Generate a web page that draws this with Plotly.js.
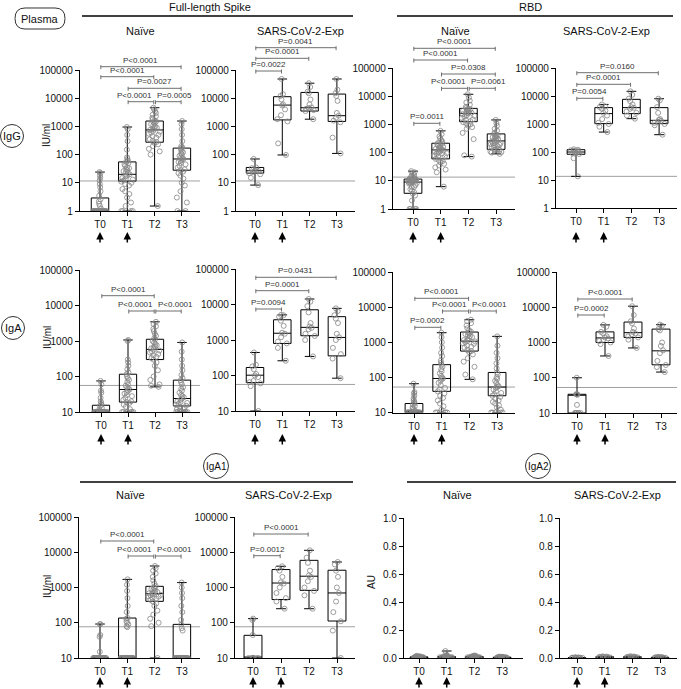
<!DOCTYPE html>
<html><head><meta charset="utf-8">
<script src="https://cdn.plot.ly/plotly-3.0.1.min.js"></script>
<style>body{margin:0;padding:0;background:#fff}#chart{width:681px;height:689px}</style>
</head><body><div id="chart"></div>
<script>
const timepoints = ['T0','T1','T2','T3'];

// Box statistics per timepoint: [q1, median, q3, min, max]
const IgG_Spike_Naive_box = [[1,1,2.9,1,24],[11.5,20,55,1,950],[275,750,1550,1.5,4600],[28,70,170,1,1550]];
const IgG_Spike_Exp_box   = [[22,27,35,8.3,70],[1700,5700,11300,97,48000],[3500,4600,16000,1800,34000],[1500,2400,14000,110,48000]];
const IgG_RBD_Naive_box   = [[3.6,9,11.5,1,22],[60,125,215,6.2,590],[1250,2450,3700,72,11700],[130,260,460,90,1440]];
const IgG_RBD_Exp_box     = [[83,100,121,13.5,125],[1030,2350,3850,515,5000],[2350,3850,7600,1550,14700],[1030,1350,3850,415,8000]];
const IgA_Spike_Naive_box = [[10,10,15.5,10,75],[19,43,116,10,1070],[300,580,1120,51,3470],[14.8,24,79,10,910]];
const IgA_Spike_Exp_box   = [[63,102,168,10,445],[800,1550,3720,260,5100],[1320,2270,7100,345,14300],[357,1180,4540,84,7800]];
const IgA_RBD_Naive_box   = [[10,10,18,10,66],[40,93,230,10,1870],[560,1070,1950,88,4380],[30,53,138,10,1470]];
const IgA_RBD_Exp_box     = [[10,33,34,10,100],[1000,1350,2000,415,3160],[1390,1900,3800,700,10700],[233,580,2400,145,3200]];
const IgA1_Naive_box      = [[10,10,10,10,92],[10,10,136,10,1700],[405,670,1080,10,4070],[10,10,90,10,1380]];
const IgA1_Exp_box        = [[10,10,44,10,131],[455,1340,3230,250,4000],[830,2090,5900,250,11350],[112,700,3090,10,5300]];
const IgA2_Naive_box      = [[0.001,0.004,0.008,0,0.015],[0.002,0.005,0.01,0,0.05],[0.002,0.005,0.01,0,0.018],[0.001,0.003,0.006,0,0.01]];
const IgA2_Exp_box        = [[0.001,0.002,0.003,0,0.005],[0.003,0.006,0.009,0,0.012],[0.003,0.006,0.009,0,0.013],[0.002,0.003,0.005,0,0.008]];

// Individual samples per timepoint
const IgG_Spike_Naive_pts = [
 [1,1,1,1,1,1,1,1,1,1,1,1,1,1,1,1,1,1,1,1,1,1,1,1,1,1,1.2,1.5,1.8,2.2,2.6,3.5,5,7,9,12,15,18,22,24],
 [1,1,1,1,1.5,2,3,4,5,6,8,9,10,11,12,13,14,15,17,18,20,22,24,26,28,30,33,36,40,45,50,55,60,70,80,150,300,500,800,950],
 [1.5,100,130,160,200,230,260,280,300,350,400,450,500,550,600,650,700,750,800,850,900,1000,1100,1200,1300,1400,1500,1600,1800,2000,2300,2600,3000,3500,4000,4600],
 [1,1,2,3,5,8,10,14,18,22,25,28,30,35,40,45,50,55,60,65,70,75,80,90,100,110,120,130,150,170,180,200,300,500,800,1200,1550]
];
const IgG_Spike_Exp_pts = [
 [8.3,15,20,22,24,26,27,28,30,33,35,70],
 [97,250,1500,1800,2500,4000,5500,6000,9000,12000,14000,48000],
 [1800,3500,3800,4200,4500,4700,6000,9000,15000,17000,25000,34000],
 [110,400,1400,1600,2000,2400,3000,8000,12000,15000,20000,48000]
];
const IgG_RBD_Naive_pts = [
 [1,1,1,1,2,3,3.5,4,4.5,5,6,7,8,8.5,9,9,9.5,10,10,10,10.5,11,11,11,11.5,12,12,13,14,15,16,18,20,22,9,10,10,11,8,6],
 [6.2,20,25,30,35,40,45,50,55,60,65,70,75,80,90,95,100,105,110,115,120,125,130,135,140,150,160,170,180,200,210,220,250,280,320,380,450,590],
 [72,80,300,500,700,800,900,1000,1100,1200,1300,1400,1500,1700,1900,2000,2100,2300,2400,2500,2600,2700,2800,3000,3200,3300,3400,3600,3800,4200,5000,6000,7000,9000,11700],
 [90,100,105,110,120,125,130,140,150,160,170,180,190,200,210,220,240,250,260,280,300,320,340,350,360,380,400,430,460,500,600,700,900,1100,1440]
];
const IgG_RBD_Exp_pts = [
 [13.5,60,85,90,95,100,100,105,110,115,120,125],
 [515,800,1000,1100,1500,2000,2500,3000,3500,4000,4200,5000],
 [1550,2000,2500,2800,3500,3800,4000,5000,6500,8000,11000,14700],
 [415,900,1000,1100,1200,1300,1400,1500,2500,4000,7000,8000]
];
const IgA_Spike_Naive_pts = [
 [10,10,10,10,10,10,10,10,10,10,10,10,10,10,10,10,10,10,10,10,10,10,10,10,10,10,10,10,11,12,13,15,16,18,20,25,35,40,60,75],
 [10,10,10,10,10,10,10,12,14,16,18,19,20,22,25,28,30,33,36,40,43,46,50,55,60,70,80,90,100,116,130,160,200,250,300,1000,1070],
 [51,55,60,80,100,150,200,250,300,330,360,400,430,470,500,540,580,620,660,700,760,820,900,1000,1100,1200,1400,1600,1900,2200,2600,3000,3470],
 [10,10,10,10,10,10,10,10,11,12,13,14,15,16,17,18,19,20,22,24,26,28,30,35,40,45,50,60,70,79,90,110,150,200,300,500,910]
];
const IgA_Spike_Exp_pts = [
 [10,50,60,65,70,90,100,110,150,180,200,445],
 [260,600,800,900,1200,1500,1600,2500,3500,4500,5000,5100],
 [345,1000,1300,1500,2000,2200,2400,3000,6000,9000,12000,14300],
 [84,300,400,600,1000,1200,1500,3000,4000,5000,6500,7800]
];
const IgA_RBD_Naive_pts = [
 [10,10,10,10,10,10,10,10,10,10,10,10,10,10,10,10,10,10,10,10,10,10,10,10,10,10,11,12,13,14,15,17,18,20,22,25,30,35,38,66],
 [10,10,10,10,10,10,12,15,18,22,26,30,35,40,45,50,60,70,80,90,93,100,110,130,150,170,200,230,260,300,400,500,700,1000,1400,1870],
 [88,120,200,280,350,450,520,560,600,700,750,800,900,950,1000,1050,1100,1150,1200,1300,1400,1500,1600,1700,1800,1900,2000,2200,2500,3000,3500,4000,4380],
 [10,10,10,10,10,12,14,16,18,20,22,25,28,30,33,36,40,45,50,53,56,60,70,80,90,100,120,138,180,250,350,500,800,1470]
];
const IgA_RBD_Exp_pts = [
 [10,10,10,10,10,10,17,33,34,34,34,100],
 [415,900,1000,1100,1200,1300,1400,1500,1800,2000,2800,3160],
 [700,1200,1400,1500,1700,1800,2000,2500,3500,4000,6000,10700],
 [145,200,230,300,500,600,800,1000,2200,2400,3000,3200]
];
const IgA1_Naive_pts = [
 [10,10,10,10,10,10,10,10,10,10,10,10,10,10,10,10,10,10,10,10,10,10,10,10,10,10,10,10,10,10,10,10,10,10,15,40,45,90,92],
 [10,10,10,10,10,10,10,10,10,10,10,10,10,10,10,10,10,10,10,10,10,10,10,10,75,80,90,100,110,130,136,200,300,500,800,1200,1700],
 [10,80,100,130,170,220,300,350,400,450,480,500,550,560,600,620,650,680,700,720,750,800,850,900,950,1000,1100,1300,1600,2000,2500,3000,3500,4070],
 [10,10,10,10,10,10,10,10,10,10,10,10,10,10,10,10,10,10,10,10,10,10,10,10,10,10,60,70,90,120,200,300,500,700,1000,1380]
];
const IgA1_Exp_pts = [
 [10,10,10,10,10,10,10,10,45,120,131],
 [250,400,500,700,1000,1300,1400,2000,3000,3500,4000],
 [250,600,800,1000,1500,2000,2200,3000,5000,7000,11350],
 [10,60,110,200,400,700,1000,2000,3000,4500,5300]
];
const IgA2_Naive_pts = [
 [0,0,0,0.001,0.001,0.002,0.002,0.003,0.003,0.004,0.004,0.005,0.005,0.006,0.006,0.007,0.007,0.008,0.008,0.009,0.01,0.011,0.012,0.013,0.015,0.002,0.003,0.004,0.005,0.001],
 [0,0,0.001,0.002,0.002,0.003,0.003,0.004,0.004,0.005,0.005,0.006,0.006,0.007,0.008,0.009,0.01,0.011,0.012,0.014,0.016,0.02,0.03,0.05,0.003,0.004,0.005,0.006,0.002,0.001],
 [0,0.001,0.001,0.002,0.002,0.003,0.003,0.004,0.004,0.005,0.005,0.006,0.006,0.007,0.008,0.009,0.01,0.011,0.012,0.014,0.016,0.018,0.003,0.004,0.005,0.006,0.002,0.001],
 [0,0,0.001,0.001,0.002,0.002,0.003,0.003,0.003,0.004,0.004,0.005,0.005,0.006,0.006,0.007,0.008,0.009,0.01,0.002,0.003,0.004,0.001,0.002]
];
const IgA2_Exp_pts = [
 [0,0.001,0.001,0.002,0.002,0.002,0.003,0.003,0.004,0.005,0.001,0.002],
 [0.001,0.003,0.004,0.005,0.006,0.006,0.007,0.008,0.009,0.01,0.012,0.005],
 [0.001,0.003,0.004,0.005,0.006,0.006,0.007,0.008,0.009,0.011,0.013,0.005],
 [0.001,0.002,0.002,0.003,0.003,0.004,0.004,0.005,0.006,0.007,0.008,0.003]
];

// Detection cut-offs
const IgG_Spike_cutoff = 11.6, IgG_RBD_cutoff = 13.5, IgA_Spike_cutoff = 56, IgA_RBD_cutoff = 53, IgA1_cutoff = 77;

// Comparisons: [from, to, label]
const IgG_Spike_Naive_p = [[0,3,'P<0.0001'],[0,2,'P<0.0001'],[1,3,'P=0.0027'],[1,2,'P<0.0001'],[2,3,'P=0.0005']];
const IgG_Spike_Exp_p   = [[0,3,'P=0.0041'],[0,2,'P<0.0001'],[0,1,'P=0.0022']];
const IgG_RBD_Naive_p   = [[0,3,'P<0.0001'],[0,2,'P<0.0001'],[1,3,'P=0.0308'],[1,2,'P<0.0001'],[2,3,'P=0.0061'],[0,1,'P=0.0011']];
const IgG_RBD_Exp_p     = [[0,3,'P=0.0160'],[0,2,'P<0.0001'],[0,1,'P=0.0054']];
const IgA_Spike_Naive_p = [[0,2,'P<0.0001'],[1,2,'P<0.0001'],[2,3,'P<0.0001']];
const IgA_Spike_Exp_p   = [[0,3,'P=0.0431'],[0,2,'P=0.0001'],[0,1,'P=0.0094']];
const IgA_RBD_Naive_p   = [[0,2,'P<0.0001'],[1,2,'P<0.0001'],[2,3,'P<0.0001'],[0,1,'P=0.0002']];
const IgA_RBD_Exp_p     = [[0,2,'P<0.0001'],[0,1,'P=0.0002']];
const IgA1_Naive_p      = [[0,2,'P<0.0001'],[1,2,'P<0.0001'],[2,3,'P<0.0001']];
const IgA1_Exp_p        = [[0,2,'P<0.0001'],[0,1,'P=0.0012']];

// ---------- layout geometry (pixels) ----------
const W = 681, H = 689;
const PX = x => x / W, PY = y => 1 - y / H;
const FONT = 'Liberation Sans, Arial, Helvetica, sans-serif';

const panels = [
 {box:IgG_Spike_Naive_box, pts:IgG_Spike_Naive_pts, cut:IgG_Spike_cutoff, p:IgG_Spike_Naive_p, lvl:[66.7,76.7,88.3,101.7,101.7], g:{l:80,r:200,t:70,b:211,t0:100,sp:27.3}, log:[0,5], arr:[232,244]},
 {box:IgG_Spike_Exp_box, pts:IgG_Spike_Exp_pts, cut:IgG_Spike_cutoff, p:IgG_Spike_Exp_p, lvl:[47.7,58.3,71], g:{l:236,r:355,t:70,b:211,t0:255,sp:27.3}, log:[0,5], arr:[232,244]},
 {box:IgG_RBD_Naive_box, pts:IgG_RBD_Naive_pts, cut:IgG_RBD_cutoff, p:IgG_RBD_Naive_p, lvl:[48.3,60,74,88.3,88.3,123.3], g:{l:393,r:515,t:68,b:209,t0:413,sp:27.7}, log:[0,5], arr:[232,244]},
 {box:IgG_RBD_Exp_box, pts:IgG_RBD_Exp_pts, cut:IgG_RBD_cutoff, p:IgG_RBD_Exp_p, lvl:[72.7,84.3,98.3], g:{l:556,r:677,t:68,b:208,t0:576,sp:27.7}, log:[0,5], arr:[232,244]},
 {box:IgA_Spike_Naive_box, pts:IgA_Spike_Naive_pts, cut:IgA_Spike_cutoff, p:IgA_Spike_Naive_p, lvl:[295.7,311,311], g:{l:80,r:200,t:270,b:412,t0:101,sp:27}, log:[1,5], arr:[434,446]},
 {box:IgA_Spike_Exp_box, pts:IgA_Spike_Exp_pts, cut:IgA_Spike_cutoff, p:IgA_Spike_Exp_p, lvl:[277.3,290.7,309], g:{l:236,r:355,t:269,b:411,t0:255,sp:27.3}, log:[1,5], arr:[434,446]},
 {box:IgA_RBD_Naive_box, pts:IgA_RBD_Naive_pts, cut:IgA_RBD_cutoff, p:IgA_RBD_Naive_p, lvl:[298.3,311,311,327.3], g:{l:393,r:515,t:272,b:412.5,t0:414,sp:27.7}, log:[1,5], arr:[434,446]},
 {box:IgA_RBD_Exp_box, pts:IgA_RBD_Exp_pts, cut:IgA_RBD_cutoff, p:IgA_RBD_Exp_p, lvl:[299,315], g:{l:557,r:677,t:272,b:413,t0:577,sp:28}, log:[1,5], arr:[434,446]},
 {box:IgA1_Naive_box, pts:IgA1_Naive_pts, cut:IgA1_cutoff, p:IgA1_Naive_p, lvl:[541,556,556], g:{l:79,r:200,t:517,b:658,t0:100,sp:27.3}, log:[1,5], arr:[677,689]},
 {box:IgA1_Exp_box, pts:IgA1_Exp_pts, cut:IgA1_cutoff, p:IgA1_Exp_p, lvl:[534,555.7], g:{l:235,r:355,t:517,b:658,t0:253,sp:28}, log:[1,5], arr:[677,689]},
 {box:IgA2_Naive_box, pts:IgA2_Naive_pts, cut:null, p:[], lvl:[], g:{l:404,r:523,t:518,b:658,t0:419,sp:27.7}, lin:[0,1], arr:[677,689]},
 {box:IgA2_Exp_box, pts:IgA2_Exp_pts, cut:null, p:[], lvl:[], g:{l:560,r:677,t:518,b:658,t0:577,sp:27.7}, lin:[0,1], arr:[677,689]}
];

const traces = [], shapes = [], annotations = [];
const layout = {
  width: W, height: H, autosize: false,
  margin: {l:0, r:0, t:0, b:0},
  paper_bgcolor: '#fff', plot_bgcolor: 'rgba(0,0,0,0)',
  showlegend: false, boxmode: 'overlay',
  font: {family: FONT, color: '#111', size: 10}
};

panels.forEach((P, i) => {
  const n = i + 1, sfx = n === 1 ? '' : String(n);
  const xr = 'x' + sfx, yr = 'y' + sfx;
  const g = P.g;
  layout['xaxis' + sfx] = {
    domain: [g.l / W, g.r / W], anchor: yr, type: 'category',
    categoryorder: 'array', categoryarray: timepoints,
    range: [-(g.t0 - g.l) / g.sp, (g.r - g.t0) / g.sp],
    showline: true, linecolor: '#000', linewidth: 1.4, mirror: false,
    ticks: 'outside', ticklen: 4, tickcolor: '#000', tickwidth: 1,
    tickfont: {size: 10, family: FONT, color: '#111'},
    showgrid: false, zeroline: false, automargin: false, fixedrange: true
  };
  const ya = {
    domain: [1 - g.b / H, 1 - g.t / H], anchor: xr,
    showline: true, linecolor: '#000', linewidth: 1.2,
    ticks: 'outside', ticklen: 4, tickcolor: '#000', tickwidth: 1,
    tickfont: {size: 10, family: FONT, color: '#111'},
    showgrid: false, zeroline: false, automargin: false, fixedrange: true
  };
  if (P.lin) {
    ya.type = 'linear'; ya.range = P.lin;
    ya.tickvals = [0,0.2,0.4,0.6,0.8,1.0];
    ya.ticktext = ['0.0','0.2','0.4','0.6','0.8','1.0'];
  } else {
    ya.type = 'log'; ya.range = P.log;
    const tv = [];
    for (let e = P.log[0]; e <= P.log[1]; e++) tv.push(Math.pow(10, e));
    ya.tickvals = tv; ya.ticktext = tv.map(v => String(v));
  }
  layout['yaxis' + sfx] = ya;

  // boxes (min-to-max whiskers)
  traces.push({
    type: 'box', xaxis: xr, yaxis: yr, x: timepoints,
    q1: P.box.map(b => b[0]), median: P.box.map(b => b[1]), q3: P.box.map(b => b[2]),
    lowerfence: P.box.map(b => b[3]), upperfence: P.box.map(b => b[4]),
    boxpoints: false, width: 0.64, whiskerwidth: 0.55,
    line: {color: '#000', width: 1}, fillcolor: 'rgba(0,0,0,0)',
    hoverinfo: 'skip', showlegend: false
  });
  // individual samples
  P.pts.forEach((arr, k) => {
    traces.push({
      type: 'box', xaxis: xr, yaxis: yr,
      x: arr.map(() => timepoints[k]), y: arr,
      boxpoints: 'all', jitter: 0.8, pointpos: 0, width: 0.64,
      line: {width: 0, color: 'rgba(0,0,0,0)'}, fillcolor: 'rgba(0,0,0,0)',
      marker: {symbol: 'circle-open', size: 5, color: '#858585', line: {width: 0.8}},
      hoveron: 'points', showlegend: false
    });
  });

  // cut-off line
  if (P.cut !== null) {
    const f = (Math.log10(P.cut) - P.log[0]) / (P.log[1] - P.log[0]);
    shapes.push({type: 'line', xref: xr + ' domain', yref: yr + ' domain', x0: 0, x1: 1, y0: f, y1: f,
      line: {color: '#a0a0a0', width: 1}, layer: 'below'});
  }

  // comparison brackets
  P.p.forEach((c, k) => {
    const yl = P.lvl[k];
    const a = c[0] + 0.03, b = c[1] - 0.03;
    const bl = {color: '#6e6e6e', width: 1};
    shapes.push({type: 'line', xref: xr, yref: 'paper', x0: a, x1: b, y0: PY(yl), y1: PY(yl), line: bl});
    shapes.push({type: 'line', xref: xr, yref: 'paper', x0: a, x1: a, y0: PY(yl - 1.5), y1: PY(yl + 2.5), line: bl});
    shapes.push({type: 'line', xref: xr, yref: 'paper', x0: b, x1: b, y0: PY(yl - 1.5), y1: PY(yl + 2.5), line: bl});
    // neighbours on the same level share an end point: push labels apart
    let tx = (c[0] + c[1]) / 2, anchor = 'center', shift = 0;
    P.p.forEach((d, m) => {
      if (m === k || P.lvl[m] !== yl) return;
      if (d[0] === c[1]) { tx = c[1]; anchor = 'right'; shift = -0.5; }
      if (d[1] === c[0]) { tx = c[0]; anchor = 'left'; shift = 0.5; }
    });
    annotations.push({xref: xr, yref: 'paper', x: tx, y: PY(yl), yanchor: 'bottom', xanchor: anchor,
      xshift: shift, yshift: 0, text: c[2], showarrow: false, font: {size: 8, family: FONT, color: '#333'}});
  });

  // treatment arrows under T0 and T1
  [0, 1].forEach(idx => {
    annotations.push({xref: xr, yref: 'paper', x: idx, y: PY(P.arr[0]), ax: 0, ay: P.arr[1] - P.arr[0],
      text: '', showarrow: true, arrowhead: 2, arrowsize: 1, arrowwidth: 1.5, arrowcolor: '#000', standoff: 0});
  });
});

// ---------- decorations ----------
function txt(x, y, s, size, extra) {
  annotations.push(Object.assign({xref: 'paper', yref: 'paper', x: PX(x), y: PY(y), text: s, showarrow: false,
    xanchor: 'center', yanchor: 'middle', font: {size: size, family: FONT, color: '#111'}}, extra || {}));
}
function hline(x0, x1, y) {
  shapes.push({type: 'line', xref: 'paper', yref: 'paper', x0: PX(x0), x1: PX(x1), y0: PY(y), y1: PY(y), line: {color: '#000', width: 1.5}});
}
function circle(cx, cy, r) {
  shapes.push({type: 'circle', xref: 'paper', yref: 'paper', x0: PX(cx - r), x1: PX(cx + r), y0: PY(cy + r), y1: PY(cy - r), line: {color: '#333', width: 1}});
}
function pt(x, y) { return PX(x).toFixed(5) + ',' + PY(y).toFixed(5); }

// Plasma rounded box
shapes.push({type: 'path', xref: 'paper', yref: 'paper', line: {color: '#333', width: 1},
  path: 'M' + pt(25, 8) + ' L' + pt(55, 8) + ' Q' + pt(65, 8) + ' ' + pt(65, 18.5) + ' Q' + pt(65, 29) + ' ' + pt(55, 29) +
        ' L' + pt(25, 29) + ' Q' + pt(15, 29) + ' ' + pt(15, 18.5) + ' Q' + pt(15, 8) + ' ' + pt(25, 8) + ' Z'});
txt(40, 18.5, 'Plasma', 11);

// group headers
txt(210, 7, 'Full-length Spike', 11); hline(82, 353, 16);
txt(530, 7, 'RBD', 11); hline(397, 673, 16);
txt(140, 31, 'Naïve', 11); txt(300, 31, 'SARS-CoV-2-Exp', 11);
txt(455, 31, 'Naïve', 11); txt(606, 31, 'SARS-CoV-2-Exp', 11);

// row labels
circle(12, 136, 11.5); txt(12, 136, 'IgG', 11);
circle(13, 328, 11.5); txt(13, 328, 'IgA', 11);
circle(216, 466, 12.5); txt(216, 466, 'IgA1', 10);
circle(538, 466, 12.5); txt(538, 466, 'IgA2', 10);

// row 3 headers
hline(80, 353, 482); hline(407, 676, 482);
txt(130, 495, 'Naïve', 11); txt(288, 495, 'SARS-CoV-2-Exp', 11);
txt(457, 495, 'Naïve', 11); txt(617, 495, 'SARS-CoV-2-Exp', 11);

// axis titles
txt(47, 136, 'IU/ml', 10, {textangle: -90});
txt(47, 338, 'IU/ml', 10, {textangle: -90});
txt(47, 587, 'IU/ml', 10, {textangle: -90});
txt(371, 582, 'AU', 10, {textangle: -90});

layout.shapes = shapes;
layout.annotations = annotations;

Plotly.newPlot('chart', traces, layout, {staticPlot: true, displayModeBar: false});
</script>
</body></html>
